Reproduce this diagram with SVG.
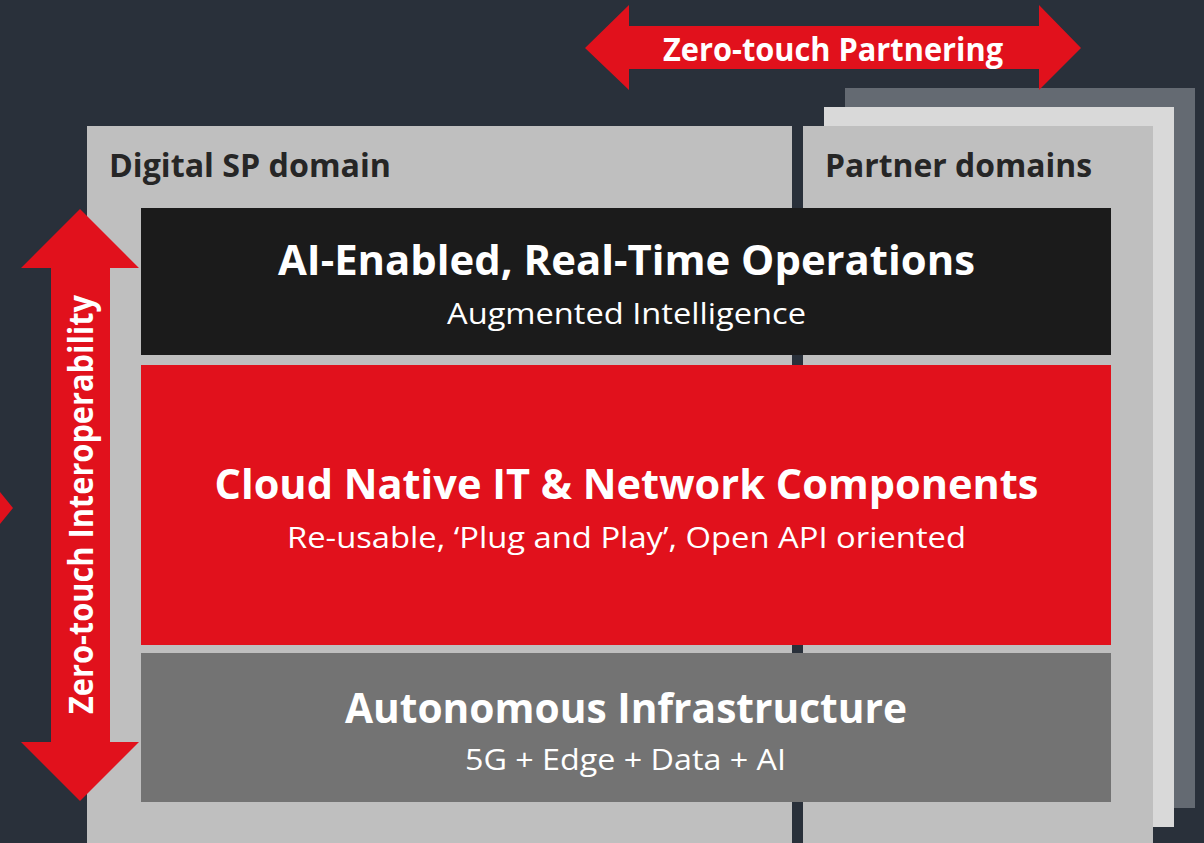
<svg xmlns="http://www.w3.org/2000/svg" width="1204" height="843" viewBox="0 0 1204 843">
  <defs>
    <style>
      .bg { fill: #29303a; }
      .domain { fill: #bfbfbf; }
      .arrow { fill: #e1111c; }
      .lbl { font-family: "Open Sans", "Liberation Sans", sans-serif; }
      .bold { font-weight: 700; }
      .reg { font-weight: 400; }
      .white { fill: #ffffff; }
      .dark { fill: #262626; }
    </style>
  </defs>

  <!-- backdrop -->
  <rect class="bg" x="0" y="0" width="1204" height="843"/>

  <!-- partial arrow at left edge -->
  <polygon class="arrow" points="0,492 13,508 0,524"/>

  <!-- stacked partner domain sheets -->
  <g id="partner-stack">
    <rect x="845" y="88" width="350" height="720" fill="#646a72"/>
    <rect x="824" y="107" width="350" height="720" fill="#d9d9d9"/>
  </g>

  <!-- domain panels -->
  <g id="digital-sp-domain">
    <rect class="domain" x="87" y="126" width="705" height="717"/>
    <text class="lbl bold dark" x="109" y="177" font-size="33" textLength="282" lengthAdjust="spacingAndGlyphs">Digital SP domain</text>
  </g>
  <g id="partner-domains">
    <rect class="domain" x="803" y="126" width="350" height="717"/>
    <text class="lbl bold dark" x="825" y="177" font-size="33" textLength="267" lengthAdjust="spacingAndGlyphs">Partner domains</text>
  </g>

  <!-- layer bands -->
  <g id="ai-operations">
    <rect x="141" y="208" width="970" height="147" fill="#1b1b1b"/>
    <text class="lbl bold white" x="626.5" y="275" font-size="42" text-anchor="middle" textLength="697" lengthAdjust="spacingAndGlyphs">AI-Enabled, Real-Time Operations</text>
    <text class="lbl reg white" x="626.5" y="324" font-size="30" text-anchor="middle" textLength="359" lengthAdjust="spacingAndGlyphs">Augmented Intelligence</text>
  </g>
  <g id="cloud-native">
    <rect x="141" y="365" width="970" height="280" fill="#e1111c"/>
    <text class="lbl bold white" x="626.5" y="499" font-size="41" text-anchor="middle" textLength="824" lengthAdjust="spacingAndGlyphs">Cloud Native IT &amp; Network Components</text>
    <text class="lbl reg white" x="626.5" y="548" font-size="29" text-anchor="middle" textLength="679" lengthAdjust="spacingAndGlyphs">Re-usable, ‘Plug and Play’, Open API oriented</text>
  </g>
  <g id="autonomous-infra">
    <rect x="141" y="653" width="970" height="149" fill="#737373"/>
    <text class="lbl bold white" x="626" y="723" font-size="42" text-anchor="middle" textLength="562" lengthAdjust="spacingAndGlyphs">Autonomous Infrastructure</text>
    <text class="lbl reg white" x="625.5" y="770" font-size="30" text-anchor="middle" textLength="321" lengthAdjust="spacingAndGlyphs">5G + Edge + Data + AI</text>
  </g>

  <!-- double-headed arrows -->
  <g id="connectors">
    <g id="zero-touch-partnering">
      <polygon class="arrow" points="585,48 629,5 629,26 1039,26 1039,5 1081,48 1039,90 1039,69 629,69 629,90"/>
      <text class="lbl bold white" x="833" y="61" font-size="32" text-anchor="middle" textLength="340" lengthAdjust="spacingAndGlyphs">Zero-touch Partnering</text>
    </g>
    <g id="zero-touch-interoperability">
      <polygon class="arrow" points="80,209 139,268 110,268 110,742 139,742 80,801 21,742 51,742 51,268 21,268"/>
      <text class="lbl bold white" transform="translate(93,504.5) rotate(-90)" x="0" y="0" font-size="34" text-anchor="middle" textLength="419" lengthAdjust="spacingAndGlyphs">Zero-touch Interoperability</text>
    </g>
  </g>
</svg>
